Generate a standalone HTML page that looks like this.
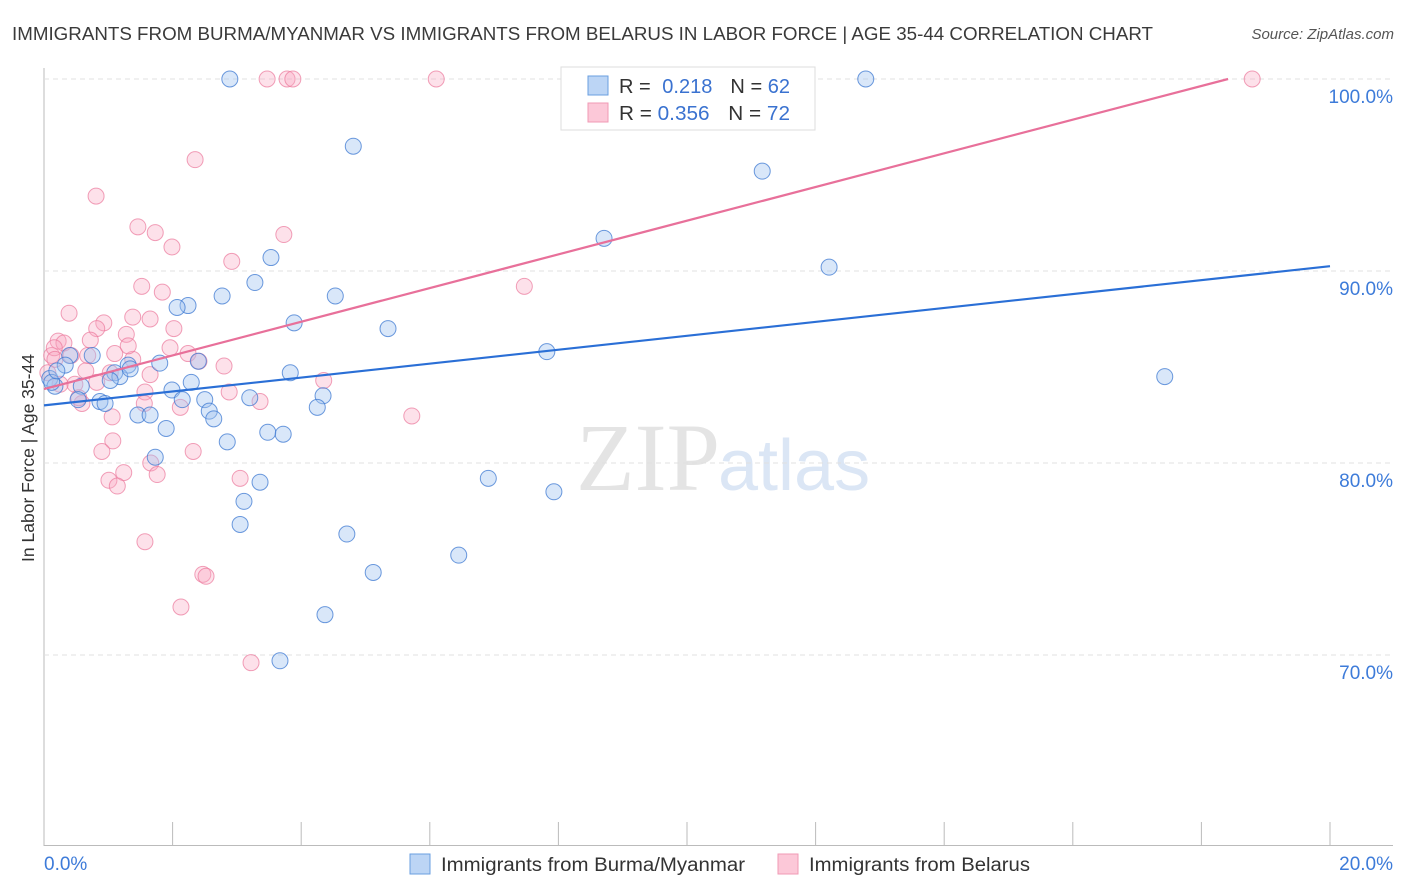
<!DOCTYPE html>
<html><head><meta charset="utf-8"><style>
body{margin:0;background:#fff;font-family:"Liberation Sans",sans-serif;}
#wrap{position:relative;width:1406px;height:892px;overflow:hidden;}
</style></head><body>
<div id="wrap">
<svg id="svg" width="1406" height="892" xmlns="http://www.w3.org/2000/svg">
<text x="12" y="40" font-size="18" fill="#3a3a3a" textLength="1141" lengthAdjust="spacingAndGlyphs">IMMIGRANTS FROM BURMA/MYANMAR VS IMMIGRANTS FROM BELARUS IN LABOR FORCE | AGE 35-44 CORRELATION CHART</text>
<text x="1394" y="39" font-size="15" fill="#555" font-style="italic" text-anchor="end">Source: ZipAtlas.com</text>
<text x="720" y="490" font-size="96" fill="#e4e4e4" text-anchor="end" font-family="Liberation Serif,serif">ZIP</text>
<text x="718" y="490" font-size="72" fill="#dbe6f5">atlas</text>
<text transform="translate(34,458) rotate(-90)" font-size="17.5" fill="#333" text-anchor="middle">In Labor Force | Age 35-44</text>
<g id="grid"></g><g id="pts"></g><g id="lines"></g>
<g>
<rect x="561" y="67" width="254" height="63" fill="#fff" stroke="#ddd"/>
<rect x="588" y="76" width="20" height="19" fill="#bcd5f5" stroke="#6a9fe0"/>
<rect x="588" y="103" width="20" height="19" fill="#fcc8d8" stroke="#f09ab5"/>
<text x="619" y="93" font-size="20" fill="#333" textLength="171" lengthAdjust="spacingAndGlyphs">R = <tspan fill="#3a72d0" dx="6">0.218</tspan><tspan dx="18" fill="#333">N = </tspan><tspan fill="#3a72d0">62</tspan></text>
<text x="619" y="120" font-size="20" fill="#333" textLength="171" lengthAdjust="spacingAndGlyphs">R = <tspan fill="#3a72d0">0.356</tspan><tspan dx="18" fill="#333">N = </tspan><tspan fill="#3a72d0">72</tspan></text>
</g>
<g>
<rect x="410" y="854" width="20" height="20" fill="#bcd5f5" stroke="#6a9fe0"/>
<text x="441" y="871" font-size="19" fill="#333" textLength="304" lengthAdjust="spacingAndGlyphs">Immigrants from Burma/Myanmar</text>
<rect x="778" y="854" width="20" height="20" fill="#fcc8d8" stroke="#f09ab5"/>
<text x="809" y="871" font-size="19" fill="#333" textLength="221" lengthAdjust="spacingAndGlyphs">Immigrants from Belarus</text>
</g>
</svg></div>
<script>
const blue=[[2.89,100],[12.78,100],[4.81,96.5],[11.17,95.2],[8.71,91.7],[12.21,90.2],[3.53,90.7],[3.28,89.4],[2.77,88.7],[4.53,88.7],[2.24,88.2],[2.07,88.1],[3.89,87.3],[5.35,87.0],[7.82,85.8],[1.80,85.2],[2.40,85.3],[0.75,85.6],[0.40,85.6],[1.31,85.1],[1.10,84.7],[1.18,84.5],[1.03,84.3],[0.58,84.0],[0.09,84.4],[0.17,84.0],[2.29,84.2],[1.99,83.8],[2.15,83.3],[2.50,83.3],[3.20,83.4],[4.34,83.5],[3.83,84.7],[4.25,82.9],[2.57,82.7],[2.64,82.3],[1.46,82.5],[1.65,82.5],[0.53,83.3],[0.87,83.2],[0.95,83.1],[1.90,81.8],[2.85,81.1],[3.48,81.6],[3.72,81.5],[1.73,80.3],[3.36,79.0],[6.91,79.2],[7.93,78.5],[3.11,78.0],[3.05,76.8],[4.71,76.3],[6.45,75.2],[5.12,74.3],[4.37,72.1],[3.67,69.7],[17.43,84.5],[0.33,85.1],[0.12,84.2],[1.34,84.9],[0.20,84.8]];
const pink=[[3.47,100],[3.78,100],[3.87,100],[6.10,100],[18.79,100],[2.35,95.8],[0.81,93.9],[1.46,92.3],[1.73,92.0],[1.99,91.25],[3.73,91.9],[2.92,90.5],[1.52,89.2],[1.84,88.9],[7.47,89.2],[0.39,87.8],[1.38,87.6],[1.65,87.5],[0.93,87.3],[0.82,87.0],[2.02,87.0],[1.28,86.7],[0.22,86.35],[0.31,86.25],[0.72,86.4],[1.10,85.7],[1.96,86.0],[0.42,85.6],[0.68,85.6],[1.38,85.4],[2.80,85.05],[1.65,84.6],[1.03,84.7],[0.65,84.8],[0.12,85.6],[0.16,86.0],[0.48,84.1],[0.82,84.2],[2.88,83.7],[1.57,83.7],[3.36,83.2],[2.12,82.9],[0.59,83.1],[0.54,83.4],[1.56,83.1],[1.06,82.4],[5.72,82.45],[4.35,84.3],[1.07,81.15],[0.90,80.6],[2.32,80.6],[1.66,80.0],[1.24,79.5],[1.76,79.4],[3.05,79.2],[1.01,79.1],[1.14,78.8],[1.57,75.9],[2.47,74.2],[2.52,74.1],[2.13,72.5],[3.22,69.6],[0.17,85.4],[0.06,84.7],[0.25,84.1],[2.24,85.7],[2.41,85.3],[1.31,86.1]];
const yTicks=[100,90,80,70];
const yTickLabels=["100.0%","90.0%","80.0%","70.0%"];
const xTicks=[0,2,4,6,8,10,12,14,16,18,20];
const blueLine=[83.0,0.3625]; // intercept, slope
const pinkLine=[83.85,0.877];
const X=v=>44+v*64.3, Y=v=>79+(100-v)*19.2;
const NS="http://www.w3.org/2000/svg";
function mk(t,a,p){const e=document.createElementNS(NS,t);for(const k in a)e.setAttribute(k,a[k]);p.appendChild(e);return e;}
const g=document.getElementById('grid');
let ax=mk('line',{x1:44,y1:68,x2:44,y2:846,stroke:'#bbb'},g);


let bx=mk('line',{x1:44,y1:845.5,x2:1393,y2:845.5,stroke:'#bbb'},g);


yTicks.forEach((v,i)=>{
 let l=mk('line',{x1:44,y1:Y(v),x2:1393,y2:Y(v),stroke:'#e0e0e0','stroke-dasharray':'5,4'},g);
 
 
 let t=mk('text',{x:1393,y:Y(v)+24,'font-size':19,fill:'#3d7bd9','text-anchor':'end'},g);
 t.textContent=yTickLabels[i];
 
 
});
xTicks.forEach(v=>{
 let l=mk('line',{x1:X(v),y1:822,x2:X(v),y2:845,stroke:'#bbb'},g);
 
 
});
let x0=mk('text',{x:44,y:870,'font-size':19,fill:'#3d7bd9'},g);x0.textContent='0.0%';


let x1=mk('text',{x:1393,y:870,'font-size':19,fill:'#3d7bd9','text-anchor':'end'},g);x1.textContent='20.0%';


const p=document.getElementById('pts');
pink.forEach(d=>{let c=mk('circle',{cx:X(d[0]),cy:Y(d[1]),r:8,fill:'rgba(248,170,195,0.35)',stroke:'rgba(235,120,155,0.7)','stroke-width':1},p);
 
 });
blue.forEach(d=>{let c=mk('circle',{cx:X(d[0]),cy:Y(d[1]),r:8,fill:'rgba(160,195,240,0.4)',stroke:'rgba(60,120,210,0.75)','stroke-width':1},p);
 
 });
const L=document.getElementById('lines');
let bl=mk('line',{x1:X(0),y1:Y(blueLine[0]),x2:X(20),y2:Y(blueLine[0]+20*blueLine[1]),stroke:'#2a6fd6','stroke-width':2.2},L);


const pe=(100-pinkLine[0])/pinkLine[1];
let pl=mk('line',{x1:X(0),y1:Y(pinkLine[0]),x2:X(pe),y2:Y(100),stroke:'#e8709a','stroke-width':2.2},L);


</script>
</body></html>
